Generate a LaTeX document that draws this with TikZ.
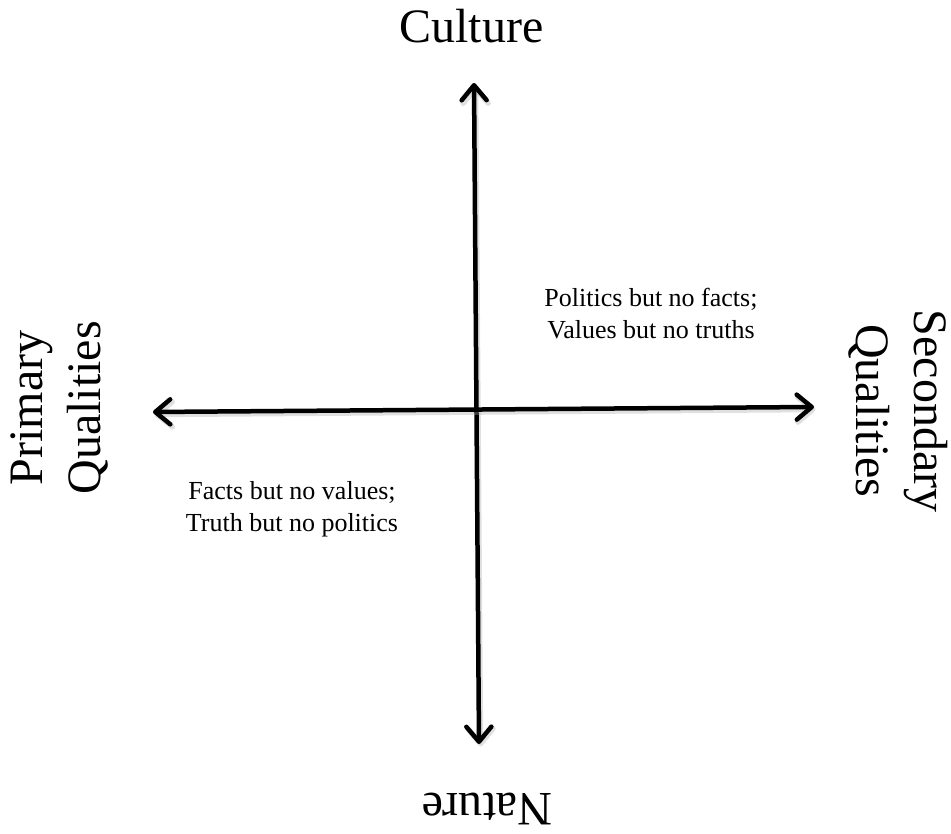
\documentclass[tikz,border=0pt]{standalone}
\usepackage{fontspec}
\setmainfont{Liberation Serif}
\usetikzlibrary{arrows.meta,positioning}
\tikzset{
  axis arrow/.style={{Straight Barb[length=15pt,width=25pt,round]}-{Straight Barb[length=15pt,width=25pt,round]},
    line width=4.5pt,line cap=round,
    preaction={draw=black!35,opacity=0.35,line width=5.5pt,
      transform canvas={shift={(1.5pt,-2.5pt)}}}},
  pole label/.style={inner sep=0pt,align=center,font=\fontsize{48}{58}\selectfont},
  quadrant label/.style={inner sep=0pt,align=center,font=\fontsize{26}{32}\selectfont},
}
\begin{document}
\begin{tikzpicture}[x=1pt,y=1pt]
  \useasboundingbox (0,0) rectangle (951,834);
  % ends of the two axes
  \coordinate (top) at (474,751);
  \coordinate (bottom) at (479,90);
  \coordinate (left) at (153,422);
  \coordinate (right) at (814,427);
  \draw[axis arrow] (bottom) -- (top);
  \draw[axis arrow] (left) -- (right);

  % poles
  \node[pole label] (culture) at (471.5,807.5) {Culture};
  \node[pole label,rotate=180] (nature) at (487,25) {Nature};
  \node[pole label,rotate=90] (primary) at (59,426) {Primary\\Qualities};
  \node[pole label,rotate=-90] (secondary) at (898,423) {Secondary\\Qualities};

  % quadrants
  \node[quadrant label] (politics) at (651,520)
    {Politics but no facts;\\Values but no truths};
  \node[quadrant label] (facts) at (292,325)
    {Facts but no values;\\Truth but no politics};
\end{tikzpicture}
\end{document}
